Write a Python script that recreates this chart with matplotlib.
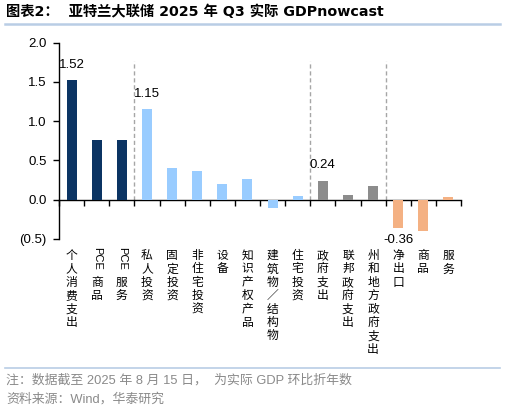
import matplotlib
matplotlib.use("Agg")
import matplotlib.pyplot as plt
import matplotlib.transforms as mtransforms
from matplotlib.ticker import FuncFormatter

plt.rcParams['font.family'] = ['Liberation Sans', 'Noto Sans CJK SC', 'DejaVu Sans']

# ---------------- data ----------------
categories = ["个人消费支出", "PCE 商品", "PCE 服务", "私人投资", "固定投资", "非住宅投资",
              "设备", "知识产权产品", "建筑物／结构物", "住宅投资", "政府支出", "联邦政府支出",
              "州和地方政府支出", "净出口", "商品", "服务"]
values = [1.52, 0.76, 0.755, 1.15, 0.41, 0.36, 0.195, 0.27, -0.105, 0.045,
          0.24, 0.065, 0.18, -0.365, -0.40, 0.03]
groups = [0, 0, 0, 1, 1, 1, 1, 1, 1, 1, 2, 2, 2, 3, 3, 3]
group_colors = ["#0B3463", "#99CCFF", "#8C8C8C", "#F4B183"]
labelled = [0, 3, 10, 13]
label_texts = ["1.52", "1.15", "0.24", "-0.36"]
separators = [2.5, 9.5, 12.5]
sep_top = 1.77
yticks = [-0.5, 0.0, 0.5, 1.0, 1.5, 2.0]

title = "图表2：  亚特兰大联储 2025 年 Q3 实际 GDPnowcast"
note1 = "注：数据截至 2025 年 8 月 15 日，  为实际 GDP 环比折年数"
note2 = "资料来源：Wind，华泰研究"

# ---------------- figure ----------------
W, H = 505, 412
fig = plt.figure(figsize=(W / 100, H / 100), dpi=100)
ax = fig.add_axes([59 / W, (H - 239) / H, (461 - 59) / W, (239 - 42.7) / H])

x = list(range(len(categories)))
colors = [group_colors[g] for g in groups]
ax.bar(x, values, width=0.4, color=colors, zorder=3)

for s in separators:
    ax.plot([s, s], [0, sep_top], color="#A6A6A6", lw=1.0, ls=(0, (3, 2)), zorder=2)

for i, t in zip(labelled, label_texts):
    v = values[i]
    off = 15.5 if v >= 0 else -12
    ax.annotate(t, (i, v), xytext=(0, off), textcoords="offset pixels",
                ha="center", va="center", fontsize=9.5, color="black")

ax.set_xlim(-0.5, len(categories) - 0.5)
ax.set_ylim(-0.5, 2.0)
ax.set_yticks(yticks)
ax.yaxis.set_major_formatter(FuncFormatter(
    lambda v, p: f"({abs(v):.1f})" if v < 0 else f"{v:.1f}"))
ax.set_xticks([i - 0.5 for i in range(len(categories) + 1)])
ax.set_xticklabels([])
ax.tick_params(axis="x", direction="out", length=4.5, width=1, color="black")
ax.tick_params(axis="y", direction="out", length=4.5, width=1, color="black",
               labelsize=9.5, pad=4.5)
ax.spines["top"].set_visible(False)
ax.spines["right"].set_visible(False)
ax.spines["bottom"].set_position(("data", 0))
ax.spines["left"].set_linewidth(1)
ax.spines["bottom"].set_linewidth(1)
ax.set_facecolor("none")

# ---------------- vertical category labels ----------------
trans = mtransforms.blended_transform_factory(ax.transData, fig.transFigure)
step = 13.4
first_center = 255.5
for i, cat in enumerate(categories):
    slot = 0
    text = cat
    if cat.startswith("PCE"):
        ax.text(i, 1 - (first_center + 3) / H, "PCE", transform=trans, rotation=-90,
                ha="center", va="center", fontsize=8, family=["Liberation Sans"])
        slot = 2
        text = cat[4:]
    for ch in text:
        y = first_center + slot * step
        fig.text(0, 0, ch, transform=trans, fontsize=8.5, ha="center", va="center",
                 family=["Noto Sans CJK SC"]).set_position((i, 1 - y / H))
        slot += 1

# ---------------- title, rules, notes ----------------
fig.text(6 / W, 1 - 12 / H, title, fontsize=10.3, fontweight="bold", ha="left", va="center",
         family=["DejaVu Sans", "Noto Sans CJK SC"])
fig.add_artist(plt.Line2D([5 / W, 500 / W], [1 - 23.5 / H, 1 - 23.5 / H],
                          color="#B9CDE5", lw=1.8, transform=fig.transFigure))
fig.add_artist(plt.Line2D([5 / W, 500 / W], [1 - 367.5 / H, 1 - 367.5 / H],
                          color="#B9CDE5", lw=1.2, transform=fig.transFigure))
fig.text(6 / W, 1 - 380.5 / H, note1, fontsize=9.3, color="#8A8A8A", ha="left", va="center",
         family=["Liberation Sans", "Noto Sans CJK SC"])
fig.text(6 / W, 1 - 399 / H, note2, fontsize=9.3, color="#8A8A8A", ha="left", va="center",
         family=["Liberation Sans", "Noto Sans CJK SC"])

fig.savefig("out.png", dpi=100)
